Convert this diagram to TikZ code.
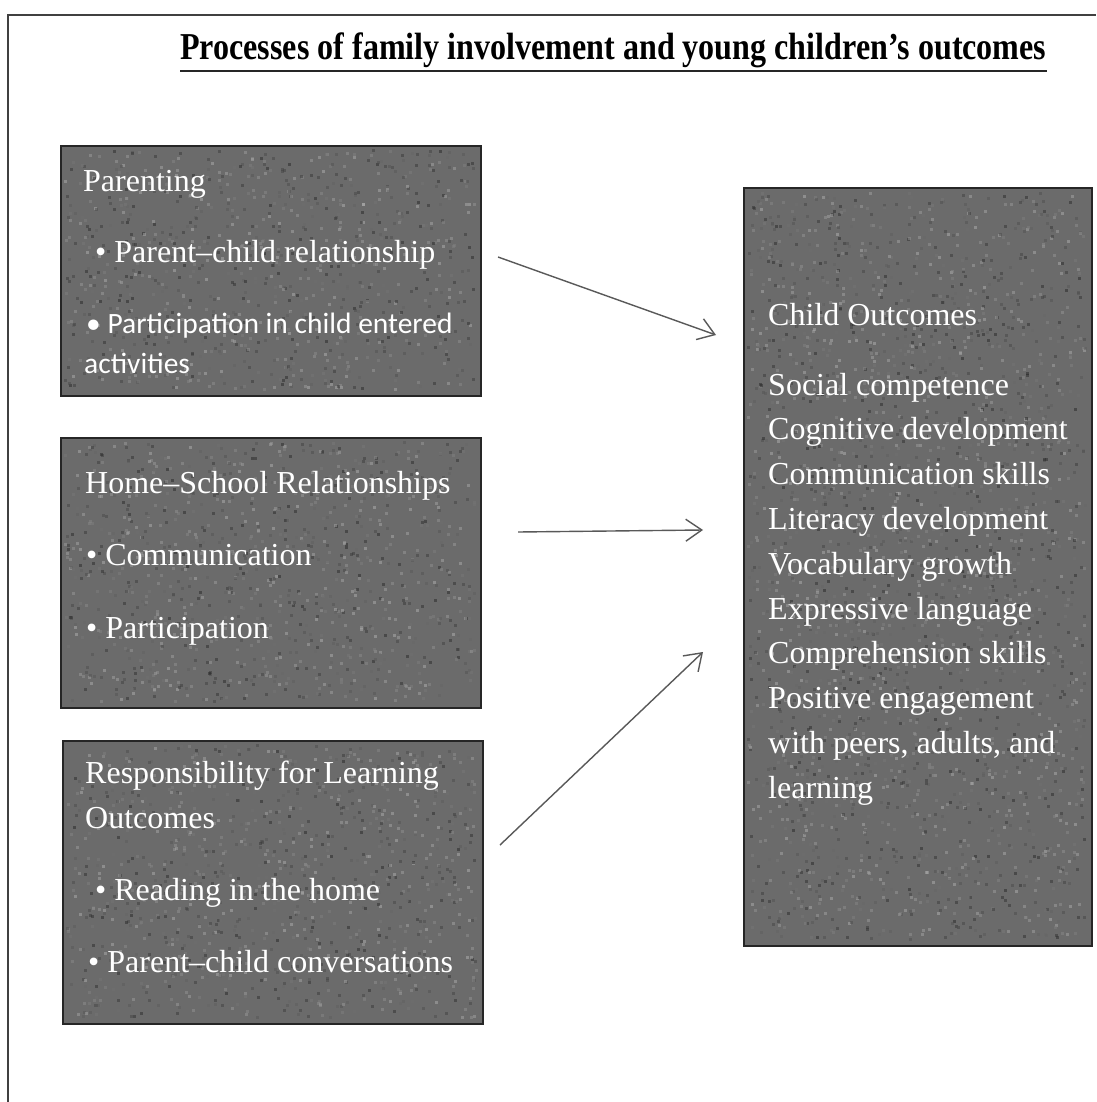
\documentclass[tikz,border=0pt]{standalone}
\usepackage{fontspec}
\setmainfont{Liberation Serif}
\newfontfamily\calib{Carlito}
\usetikzlibrary{arrows.meta}
\newcommand\myspeckle[5]{%
  \foreach \k in {1,...,#5}{%
    \pgfmathsetmacro\px{#1+4+rnd*(#3-11)}%
    \pgfmathsetmacro\py{#2+4+rnd*(#4-11)}%
    \pgfmathrandominteger{\sh}{30}{85}%
    \fill[black!\sh, opacity=0.5] (\px,\py) rectangle ++(3,3);
  }}
\begin{document}
\begin{tikzpicture}[x=1pt,y=-1pt,
  frame/.style={draw=black!75, line width=2.4pt},
  panel/.style={draw=black!85, line width=2.2pt, fill=black!58, inner sep=0pt, anchor=north west},
  lbl/.style={anchor=base west, text=white, inner sep=0pt, font=\fontsize{32}{38}\selectfont},
  slbl/.style={anchor=base west, text=white, inner sep=0pt, font=\calib\fontsize{29.5}{36}\selectfont},
  link/.style={draw=black!65, line width=1.4pt, -{Straight Barb[length=16pt,width=22pt,line width=1.4pt]}}
]
\pgfmathsetseed{7}
\useasboundingbox (0,0) rectangle (1096,1102);
\fill[white] (0,0) rectangle (1096,1102);
\draw[frame] (8,1102) -- (8,15) -- (1096,15);

% title
\node[anchor=base west, inner sep=0pt] (title) at (180,60)
  {\scalebox{0.844}[1]{\fontsize{38}{42}\selectfont\bfseries Processes of family involvement and young children’s outcomes}};
\draw[line width=2.2pt, black!85] ([yshift=-2.5pt]title.south west) -- ([yshift=-2.5pt]title.south east);

% panels
\node[panel, minimum width=420pt, minimum height=250pt] (b1) at (60,145) {};
\node[panel, minimum width=420pt, minimum height=270pt] (b2) at (60,437) {};
\node[panel, minimum width=420pt, minimum height=283pt] (b3) at (62,740) {};
\node[panel, minimum width=348pt, minimum height=758pt] (b4) at (743,187) {};

% scanned texture
\myspeckle{60}{145}{420}{250}{1000}
\myspeckle{60}{437}{420}{270}{1080}
\myspeckle{62}{740}{420}{283}{1130}
\myspeckle{743}{187}{348}{758}{2500}

% panel 1 text
\node[lbl] (t1) at (83,192) {Parenting};
\node[lbl] (t2) at (95,262) {\textbullet\ Parent–child relationship};
\node[slbl] (t3) at (86,333) {• Participation in child entered};
\node[slbl] (t4) at (84,373) {activities};

% panel 2 text
\node[lbl] (t5) at (85,493) {Home–School Relationships};
\node[lbl] (t6) at (86,565) {\textbullet\ Communication};
\node[lbl] (t7) at (86,638) {\textbullet\ Participation};

% panel 3 text
\node[lbl] (t8) at (85,783) {Responsibility for Learning};
\node[lbl] (t9) at (85,828) {Outcomes};
\node[lbl] (t10) at (95,900) {\textbullet\ Reading in the home};
\node[lbl] (t11) at (88,972) {\textbullet\ Parent–child conversations};

% panel 4 text
\node[lbl] (t12) at (768,325) {Child Outcomes};
\foreach \t [count=\i] in {Social competence, Cognitive development, Communication skills,
  Literacy development, Vocabulary growth, Expressive language, Comprehension skills,
  Positive engagement, {with peers, adults, and}, learning}
  \node[lbl] (o\i) at (768,{395+44.8*(\i-1)}) {\t};

% arrows
\coordinate (a1s) at (498,257);
\coordinate (a1e) at (716,335);
\coordinate (a2s) at (518,532);
\coordinate (a2e) at (703,530);
\coordinate (a3s) at (500,845);
\coordinate (a3e) at (703,652);
\draw[link] (a1s) -- (a1e);
\draw[link] (a2s) -- (a2e);
\draw[link] (a3s) -- (a3e);
\end{tikzpicture}
\end{document}
